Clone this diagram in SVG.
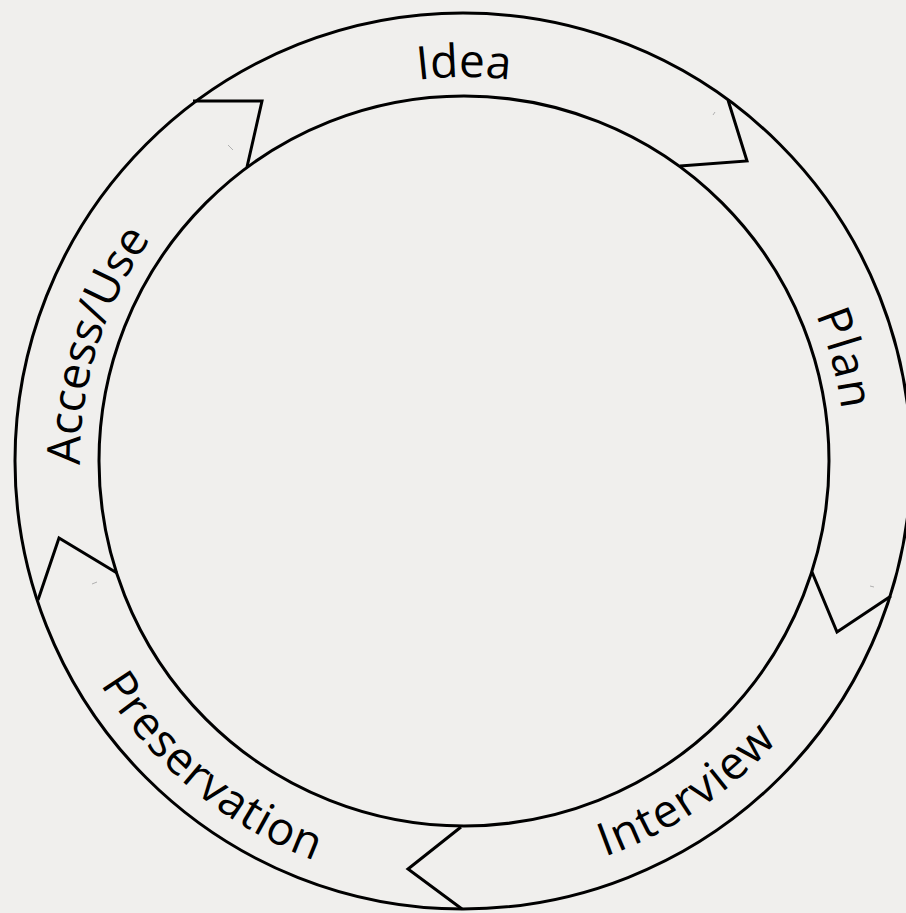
<svg xmlns="http://www.w3.org/2000/svg" xmlns:xlink="http://www.w3.org/1999/xlink" width="906" height="913" viewBox="0 0 906 913">
  <style>
    .ring { fill: none; stroke: #000; stroke-width: 3; }
    .chev { fill: none; stroke: #000; stroke-width: 3; stroke-linejoin: miter; }
    .lbl { font-family: "Open Sans", "Liberation Sans", sans-serif; font-size: 46px; fill: #000; letter-spacing: 1px; }
    .spec { stroke: #b0b0b0; stroke-width: 1; }
  </style>
  <defs>
    <path id="pIdea" d="M 80 461 A 384 384 0 0 1 848 461"/>
    <path id="pPlan" d="M 364.6 90.1 A 384 384 0 0 1 563.4 831.9"/>
    <path id="pAccess" d="M 349.3 827.5 A 384 384 0 0 1 578.7 94.5"/>
    <path id="pInterview" d="M 115.8 695.9 A 420 420 0 0 0 812.2 226.1"/>
    <path id="pPreservation" d="M 134.4 190.2 A 426 426 0 0 0 793.6 731.8"/>
  </defs>
  <rect width="906" height="913" fill="#f0efed"/>
  <g id="cycle-ring">
    <circle class="ring" cx="463" cy="461" r="448"/>
    <circle class="ring" cx="464" cy="461" r="365"/>
  </g>
  <g id="connectors">
    <polyline class="chev" points="193,101 262,101 247,167"/>
    <polyline class="chev" points="728,100 747,161 680,166"/>
    <polyline class="chev" points="812,572 837,632 891,596"/>
    <polyline class="chev" points="461,827 408,869 462,909"/>
    <polyline class="chev" points="38,600 59,538 117,573"/>
  </g>
  <g id="specks">
    <line class="spec" x1="228" y1="145" x2="233" y2="150"/>
    <line class="spec" x1="713" y1="115" x2="715" y2="112"/>
    <line class="spec" x1="870" y1="586" x2="874" y2="587"/>
    <line class="spec" x1="92" y1="584" x2="97" y2="582"/>
  </g>
  <g id="node-idea">
    <text class="lbl" style="letter-spacing:0"><textPath xlink:href="#pIdea" href="#pIdea" startOffset="50%" text-anchor="middle">Idea</textPath></text>
  </g>
  <g id="node-plan">
    <text class="lbl" style="letter-spacing:2px"><textPath xlink:href="#pPlan" href="#pPlan" startOffset="50%" text-anchor="middle">Plan</textPath></text>
  </g>
  <g id="node-interview">
    <text class="lbl" style="letter-spacing:1.5px"><textPath xlink:href="#pInterview" href="#pInterview" startOffset="50%" text-anchor="middle">Interview</textPath></text>
  </g>
  <g id="node-preservation">
    <text class="lbl"><textPath xlink:href="#pPreservation" href="#pPreservation" startOffset="50%" text-anchor="middle">Preservation</textPath></text>
  </g>
  <g id="node-access-use">
    <text class="lbl" style="letter-spacing:0"><textPath xlink:href="#pAccess" href="#pAccess" startOffset="50%" text-anchor="middle">Access/Use</textPath></text>
  </g>
</svg>
